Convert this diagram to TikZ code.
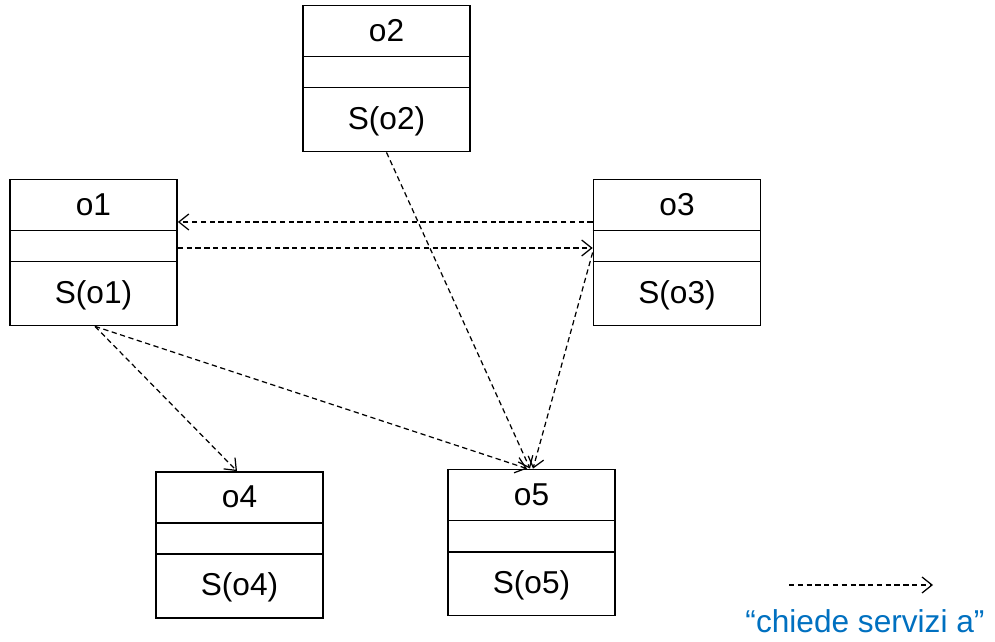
\documentclass[tikz,border=0pt]{standalone}
\usepackage{fontspec}
\setmainfont{Liberation Sans}
\usetikzlibrary{positioning,arrows.meta,calc}
\definecolor{legenda}{HTML}{0070C0}

\tikzset{
  oggetto/.style={draw, line width=1pt, minimum width=3.34cm, minimum height=2.92cm, inner sep=0pt},
  etichetta/.style={font=\fontsize{18}{21}\selectfont, inner sep=0pt},
  chiede/.style={dash pattern=on 3pt off 2pt, line width=0.7pt, -{Straight Barb[length=2mm,width=3.2mm]}}
}

\begin{document}
\begin{tikzpicture}[x=1cm,y=1cm]
\useasboundingbox (0,0) rectangle (19.9,12.82);
% oggetti
\foreach \n/\x/\y in {o1/1.87/7.77, o2/7.73/11.25, o3/13.54/7.77, o4/4.79/1.92, o5/10.63/1.97} {
  \node[oggetto] (\n) at (\x,\y) {};
  \draw[line width=1pt] ([yshift=-1.04cm]\n.north west) -- ([yshift=-1.04cm]\n.north east);
  \draw[line width=1pt] ([yshift=-1.66cm]\n.north west) -- ([yshift=-1.66cm]\n.north east);
  \node[etichetta] (\n-nome) at ([yshift=-0.52cm]\n.north) {\n};
  \node[etichetta] (\n-servizi) at ([yshift=0.63cm]\n.south) {S(\n)};
}
% richieste
\draw[chiede] ([yshift=0.61cm]o3.west) -- ([yshift=0.61cm]o1.east);
\draw[chiede] ([yshift=0.09cm]o1.east) -- ([yshift=0.09cm]o3.west);
\draw[chiede] ([xshift=0.03cm]o1.south) -- ([xshift=-0.05cm]o4.north);
\draw[chiede] ([xshift=0.03cm]o1.south) -- ([xshift=-0.09cm]o5.north);
\draw[chiede] (o2.south) -- ([xshift=-0.03cm]o5.north);
\draw[chiede] (o3.west) -- ([xshift=0.03cm]o5.north);
% legenda
\coordinate (leg-a) at (15.78,1.12);
\coordinate (leg-b) at (18.66,1.12);
\draw[chiede] (leg-a) -- (leg-b);
\node[etichetta, text=legenda] (leg-testo) at (17.3,0.4) {“chiede servizi a”};
\end{tikzpicture}
\end{document}
